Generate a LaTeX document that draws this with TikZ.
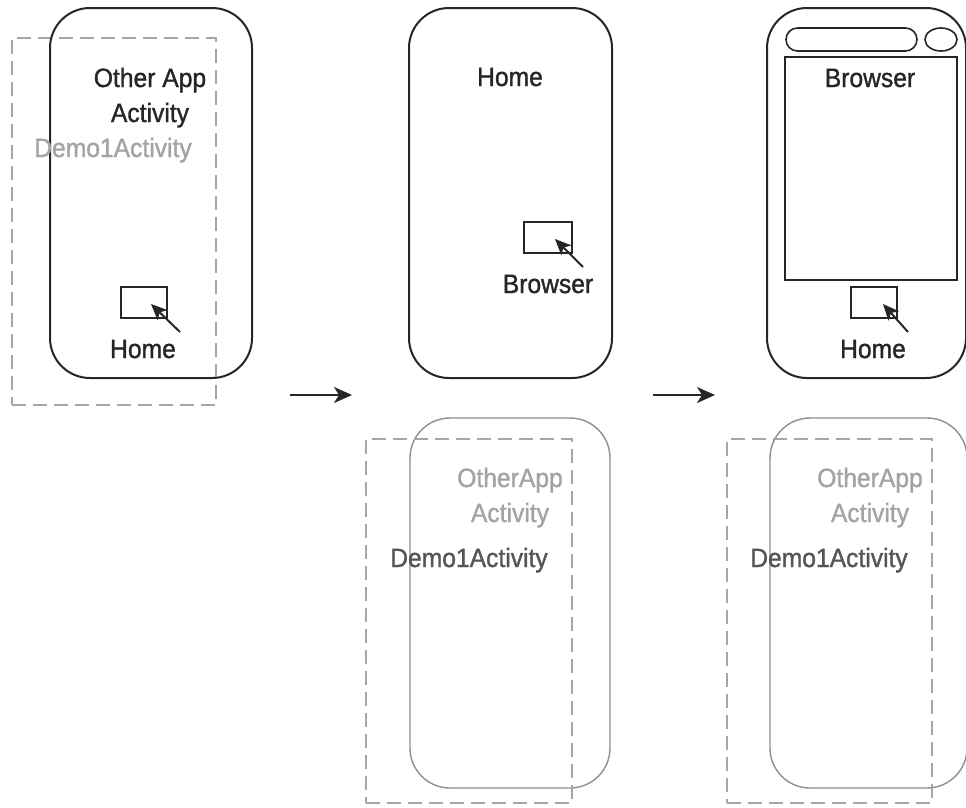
\documentclass[tikz,border=0pt]{standalone}
\usepackage{fontspec}
\setmainfont{Liberation Sans}[FakeStretch=0.93,FakeBold=1.2]
\usetikzlibrary{arrows.meta,shapes.geometric}
\definecolor{ink}{HTML}{262626}
\definecolor{lightt}{HTML}{A3A3A3}
\definecolor{midt}{HTML}{555555}
\definecolor{dashc}{HTML}{A6A6A6}
\definecolor{ghost}{HTML}{8E8E8E}
\begin{document}
\begin{tikzpicture}[x=1pt,y=-1pt,
  phone/.style={draw=ink, line width=2pt, rounded corners=40pt, rectangle, inner sep=0pt, minimum height=370pt},
  ghostphone/.style={draw=ghost, line width=1.4pt, rounded corners=40pt, rectangle, inner sep=0pt, minimum height=370pt},
  stackbox/.style={draw=dashc, line width=1.6pt, dash pattern=on 14pt off 7pt, rectangle, inner sep=0pt},
  btn/.style={draw=ink, line width=1.6pt, rectangle, inner sep=0pt, minimum height=31pt},
  lbl/.style={font=\fontsize{26.5}{30}\selectfont, text=ink, anchor=base, inner sep=0pt},
  glbl/.style={lbl, text=lightt},
  mlbl/.style={lbl, text=midt},
  tap/.style={draw=ink, line width=2pt, -{Stealth[length=16pt,width=14pt,inset=4pt]}},
  flow/.style={draw=ink, line width=1.8pt, -{Stealth[length=18pt,width=16pt,inset=5pt]}}
]
\useasboundingbox (0,0) rectangle (966,807);

% ---------- Panel 1 ----------
\node[stackbox, minimum width=204pt, minimum height=367pt] (s1) at (114,221.5) {};
\node[phone, minimum width=202pt] (ph1) at (151,193) {};
\node[lbl] (t1a) at (150,87) {Other App};
\node[lbl] (t1b) at (150,122) {Activity};
\node[glbl] (t1c) at (113,157) {Demo1Activity};
\node[btn, minimum width=46pt] (b1) at (144,302.5) {};
\coordinate (a1s) at (180,332);
\coordinate (a1e) at (151,304);
\draw[tap] (a1s) -- (a1e);
\node[lbl] (h1) at (143,358) {Home};

% ---------- flow arrows ----------
\coordinate (f1s) at (290,395);
\coordinate (f1e) at (352,395);
\draw[flow] (f1s) -- (f1e);
\coordinate (f2s) at (653,395);
\coordinate (f2e) at (715,395);
\draw[flow] (f2s) -- (f2e);

% ---------- Panel 2 ----------
\node[phone, minimum width=203pt] (ph2) at (510.5,193) {};
\node[lbl] (h2) at (510,86) {Home};
\node[btn, minimum width=48pt] (b2) at (548,237.5) {};
\coordinate (a2s) at (583,267);
\coordinate (a2e) at (555,239);
\draw[tap] (a2s) -- (a2e);
\node[lbl] (br2) at (548,293) {Browser};

\node[ghostphone, minimum width=200pt] (gp2) at (510,603) {};
\node[stackbox, minimum width=206pt, minimum height=364pt] (s2) at (469,621) {};
\node[glbl] (o2a) at (510,487) {OtherApp};
\node[glbl] (o2b) at (510,522) {Activity};
\node[mlbl] (d2) at (469,567) {Demo1Activity};

% ---------- Panel 3 ----------
\node[phone, minimum width=199pt] (ph3) at (866.5,193) {};
\node[draw=ink, line width=1.6pt, rectangle, rounded corners=11.5pt, inner sep=0pt, minimum width=131pt, minimum height=23pt] (pill) at (851.5,39.5) {};
\node[draw=ink, line width=1.6pt, ellipse, inner sep=0pt, minimum width=32pt, minimum height=23pt] (cam) at (941,39.5) {};
\node[draw=ink, line width=1.6pt, rectangle, inner sep=0pt, minimum width=172pt, minimum height=223pt] (scr) at (871,168.5) {};
\node[lbl] (br3) at (870,87) {Browser};
\node[btn, minimum width=46pt] (b3) at (874,302.5) {};
\coordinate (a3s) at (908,332);
\coordinate (a3e) at (883,304);
\draw[tap] (a3s) -- (a3e);
\node[lbl] (h3) at (873,358) {Home};

\node[ghostphone, minimum width=197pt] (gp3) at (868.5,603) {};
\node[stackbox, minimum width=205pt, minimum height=364pt] (s3) at (829.5,621) {};
\node[glbl] (o3a) at (870,487) {OtherApp};
\node[glbl] (o3b) at (870,522) {Activity};
\node[mlbl] (d3) at (829,567) {Demo1Activity};
\end{tikzpicture}
\end{document}
